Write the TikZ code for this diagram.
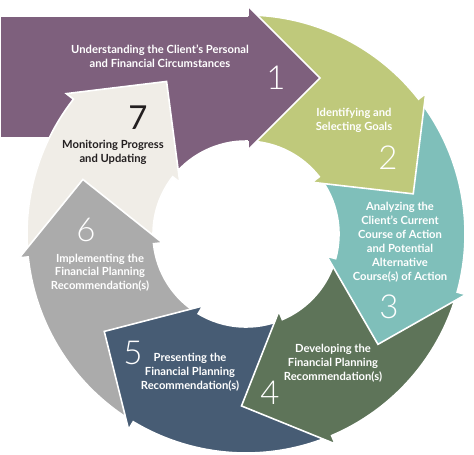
\documentclass[tikz,border=0pt]{standalone}
\usepackage{fontspec}
\setmainfont{Lato}
\newfontfamily\numfont{Lato Light}
\definecolor{stepone}{HTML}{7E607D}
\definecolor{steptwo}{HTML}{BFC97B}
\definecolor{stepthree}{HTML}{7FBFBA}
\definecolor{stepfour}{HTML}{5E7459}
\definecolor{stepfive}{HTML}{475C74}
\definecolor{stepsix}{HTML}{ABABAB}
\definecolor{stepseven}{HTML}{F0EDE7}
\definecolor{stepink}{HTML}{231F20}
\begin{document}
\begin{tikzpicture}[x=1pt,y=1pt,
    stepshape/.style={draw=white,line width=1.6pt},
    steplabel/.style={text=white,align=center,inner sep=0pt,
      font=\bfseries\fontsize{11.2}{13.9}\selectfont},
    stepnum/.style={text=white,inner sep=0pt,
      font=\numfont\fontsize{33}{33}\selectfont}]
  \useasboundingbox (0,0) rectangle (474,-455);
  % step 1, the straight arrow on top
  \draw[stepshape,fill=stepone]
    (0,-16) -- (248,-16) -- (248,-6) -- (320,-78) -- (248,-150) -- (248,-141.02)
    arc[start angle=88.77,end angle=145,radius=93] -- ++(145:57) |- (0,-138) -- cycle;
  \begin{scope}[shift={(246,-234)}]
    % step 7
    \draw[stepshape,fill=stepseven]
      (-174:219) arc[start angle=-174,end angle=-218,radius=219]
      -- (-218:228) -- (-242.5:172) -- (-218:84) -- (-218:93)
      arc[start angle=-218,end angle=-174,radius=93] -- cycle;
    % step 6
    \draw[stepshape,fill=stepsix]
      (-121:219) arc[start angle=-121,end angle=-174,radius=219]
      -- (-174:228) -- (-198.5:172) -- (-174:84) -- (-174:93)
      arc[start angle=-174,end angle=-121,radius=93] -- cycle;
    % step 5
    \draw[stepshape,fill=stepfive]
      (-67:219) arc[start angle=-67,end angle=-121,radius=219]
      -- (-121:228) -- (-145.5:172) -- (-121:84) -- (-121:93)
      arc[start angle=-121,end angle=-67,radius=93] -- cycle;
    % step 4
    \draw[stepshape,fill=stepfour]
      (-15.4:219) arc[start angle=-15.4,end angle=-67,radius=219]
      -- (-67:228) -- (-91.5:172) -- (-67:84) -- (-67:93)
      arc[start angle=-67,end angle=-15.4,radius=93] -- cycle;
    % step 3
    \draw[stepshape,fill=stepthree]
      (38:219) arc[start angle=38,end angle=-15.4,radius=219]
      -- (-15.4:228) -- (-39.9:172) -- (-15.4:84) -- (-15.4:93)
      arc[start angle=-15.4,end angle=38,radius=93] -- cycle;
    % step 2
    \draw[stepshape,fill=steptwo]
      (88:219) arc[start angle=88,end angle=38,radius=219]
      -- (38:228) -- (13.5:172) -- (38:84) -- (38:93)
      arc[start angle=38,end angle=88,radius=93] -- cycle;
  \end{scope}
  % head of step 1 again, over the tail of step 2
  \fill[stepone] (248,-6) -- (320,-78) -- (248,-150) -- cycle;
  \draw[white,line width=1.6pt]
    (248,-16) -- (248,-6) -- (320,-78) -- (248,-150) -- (248,-141.02);
  % texts
  \node[steplabel] (lbl1) at (160,-56.5) {Understanding the Client’s Personal\\and Financial Circumstances};
  \node[stepnum] (num1) at (276,-78) {1};
  \node[steplabel] (lbl2) at (354,-120) {Identifying and\\Selecting Goals};
  \node[stepnum] (num2) at (388,-158) {2};
  \node[steplabel] (lbl3) at (400,-242) {Analyzing the\\Client’s Current\\Course of Action\\and Potential\\Alternative\\Course(s) of Action};
  \node[stepnum] (num3) at (389,-307) {3};
  \node[steplabel] (lbl4) at (333,-363.5) {Developing the\\Financial Planning\\Recommendation(s)};
  \node[stepnum] (num4) at (270,-393) {4};
  \node[steplabel] (lbl5) at (190,-372) {Presenting the\\Financial Planning\\Recommendation(s)};
  \node[stepnum] (num5) at (133,-353) {5};
  \node[steplabel] (lbl6) at (100,-272.7) {Implementing the\\Financial Planning\\Recommendation(s)};
  \node[stepnum] (num6) at (86,-230) {6};
  \node[steplabel,text=stepink] (lbl7) at (113,-152.5) {Monitoring Progress\\and Updating};
  \node[stepnum,text=stepink,font=\fontsize{33}{33}\selectfont] (num7) at (138,-118) {7};
\end{tikzpicture}
\end{document}
